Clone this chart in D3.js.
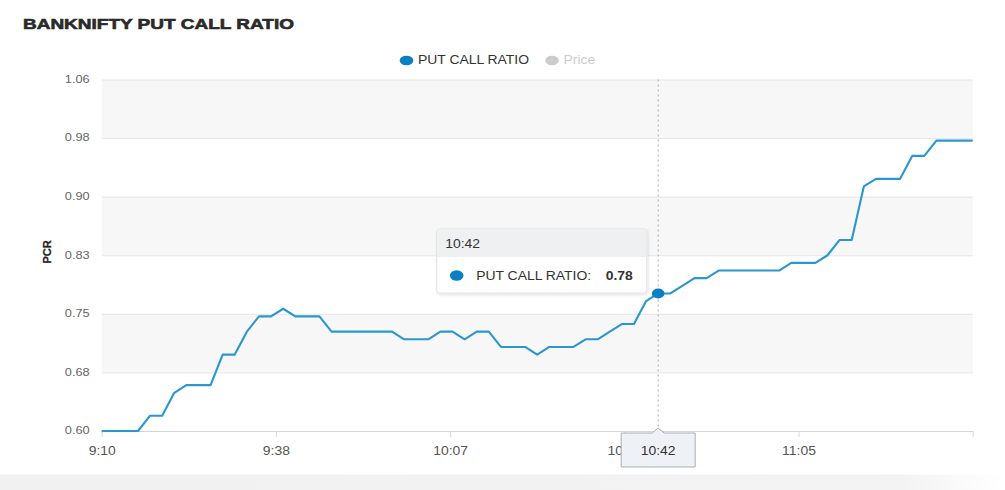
<!DOCTYPE html>
<html><head><meta charset="utf-8">
<script src="https://cdn.jsdelivr.net/npm/d3@7"></script>
<style>
body{margin:0;background:#fff;}
svg{display:block;font-family:"Liberation Sans",Arial,Helvetica,sans-serif;}
</style>
</head><body>
<svg id="c" width="1005" height="490"></svg>
<script>
// ---------- data ----------
const times = ["9:10","9:12","9:14","9:16","9:18","9:20","9:22","9:24","9:26","9:28",
  "9:30","9:32","9:34","9:36","9:38","9:40","9:42","9:44","9:46","9:48",
  "9:50","9:52","9:54","9:56","9:58","10:00","10:02","10:04","10:06","10:08",
  "10:10","10:12","10:14","10:16","10:18","10:20","10:22","10:24","10:26","10:28",
  "10:30","10:32","10:34","10:36","10:38","10:40","10:42","10:44","10:46","10:48",
  "10:50","10:52","10:54","10:56","10:58","11:00","11:02","11:04","11:06","11:08",
  "11:10","11:12","11:14","11:16","11:18","11:20","11:22","11:24","11:26","11:28",
  "11:30","11:32","11:34"];
const pcr = [0.60,0.60,0.60,0.60,0.62,0.62,0.65,0.66,0.66,0.66,
  0.70,0.70,0.73,0.75,0.75,0.76,0.75,0.75,0.75,0.73,
  0.73,0.73,0.73,0.73,0.73,0.72,0.72,0.72,0.73,0.73,
  0.72,0.73,0.73,0.71,0.71,0.71,0.70,0.71,0.71,0.71,
  0.72,0.72,0.73,0.74,0.74,0.77,0.78,0.78,0.79,0.80,
  0.80,0.81,0.81,0.81,0.81,0.81,0.81,0.82,0.82,0.82,
  0.83,0.85,0.85,0.92,0.93,0.93,0.93,0.96,0.96,0.98,
  0.98,0.98,0.98];
const yDomain = [0.60, 1.06];
const yTickLabels = ["0.60","0.68","0.75","0.83","0.90","0.98","1.06"];
const xTickLabels = ["9:10","9:38","10:07","10:36","11:05",""];
const chartTitle = "BANKNIFTY PUT CALL RATIO";
const seriesName = "PUT CALL RATIO";
const hiddenSeriesName = "Price";
const yTitle = "PCR";
const hoverTime = "10:42";

// ---------- setup ----------
const SX = 1.16;
const LINE = "#2b96cf", DOT = "#0a80c4";
const parse = d3.timeParse("%H:%M");
const data = times.map((t, i) => ({t: parse(t), label: t, v: pcr[i]}));
const svg = d3.select("#c");
const m = {l: 101.7, r: 972.7, t: 79.5, b: 431};
const x = d3.scaleTime().domain(d3.extent(data, d => d.t)).range([m.l, m.r]);
const y = d3.scaleLinear().domain(yDomain).range([m.b, m.t]);

function stretch(sel) {
  sel.each(function () {
    const t = d3.select(this);
    const ax = +t.attr("x") || 0;
    const prev = t.attr("transform") || "";
    t.attr("transform", `${prev} translate(${ax},0) scale(${SX},1) translate(${-ax},0)`);
  });
}

const defs = svg.append("defs");
const f = defs.append("filter").attr("id", "sh").attr("x", "-10%").attr("y", "-10%").attr("width", "130%").attr("height", "140%");
f.append("feDropShadow").attr("dx", 1).attr("dy", 1.5).attr("stdDeviation", 1.5)
  .attr("flood-color", "#000").attr("flood-opacity", 0.12);
const g1 = defs.append("linearGradient").attr("id", "bot").attr("x1", 0).attr("x2", 1);
g1.append("stop").attr("offset", "0").attr("stop-color", "#f1f1f1");
g1.append("stop").attr("offset", "0.9").attr("stop-color", "#f3f3f3");
g1.append("stop").attr("offset", "1").attr("stop-color", "#ffffff");

// bottom card shadow strip
svg.append("rect").attr("x", 0).attr("y", 474.5).attr("width", 1005).attr("height", 16).attr("fill", "url(#bot)");

// ---------- y grid + bands ----------
const yTicks = d3.range(yTickLabels.length).map(k => yDomain[0] + k * (yDomain[1] - yDomain[0]) / (yTickLabels.length - 1));
const bands = d3.range(1, yTicks.length - 1, 2);
svg.append("g").selectAll("rect").data(bands).join("rect")
  .attr("x", m.l).attr("width", m.r - m.l)
  .attr("y", k => y(yTicks[k + 1])).attr("height", k => y(yTicks[k]) - y(yTicks[k + 1]))
  .attr("fill", "#f7f7f7");

const yAxis = svg.append("g").attr("transform", `translate(${m.l},0)`)
  .call(d3.axisLeft(y).tickValues(yTicks).tickSize(-(m.r - m.l)).tickPadding(12)
    .tickFormat((d, i) => yTickLabels[i]));
yAxis.select(".domain").remove();
yAxis.selectAll(".tick line").attr("stroke", "#e6e6e6");
yAxis.selectAll(".tick text").attr("fill", "#666").attr("font-size", 11)
  .attr("font-family", "Liberation Sans, Arial, sans-serif").attr("dy", "0.25em").call(stretch);

// ---------- x axis ----------
const [d0, d1] = x.domain();
const xTicks = d3.range(xTickLabels.length).map(k => new Date(+d0 + k * (d1 - d0) / (xTickLabels.length - 1)));
const xAxis = svg.append("g").attr("transform", `translate(0,${m.b})`)
  .call(d3.axisBottom(x).tickValues(xTicks).tickSize(6).tickPadding(9)
    .tickFormat((d, i) => xTickLabels[i]));
xAxis.select(".domain").attr("stroke", "#d6d6d6").attr("d", `M${m.l},0.5H${m.r}`);
xAxis.selectAll(".tick line").attr("stroke", "#d6d6d6");
xAxis.selectAll(".tick text").attr("fill", "#555").attr("font-size", 12)
  .attr("font-family", "Liberation Sans, Arial, sans-serif").call(stretch);

// y title
svg.append("text").attr("transform", `translate(51,252) rotate(-90)`)
  .attr("text-anchor", "middle").attr("font-size", 11).attr("font-weight", "bold")
  .attr("fill", "#222").attr("stroke", "#222").attr("stroke-width", 0.25).text(yTitle);

// ---------- title ----------
svg.append("text").attr("x", 23).attr("y", 29.3).attr("font-size", 14.5).attr("font-weight", "bold")
  .attr("fill", "#2a2a2a").attr("stroke", "#2a2a2a").attr("stroke-width", 0.6)
  .attr("textLength", 271).attr("lengthAdjust", "spacingAndGlyphs").text(chartTitle);

// ---------- legend ----------
const lg = svg.append("g");
lg.append("ellipse").attr("cx", 406.5).attr("cy", 60.5).attr("rx", 6.8).attr("ry", 4.8).attr("fill", DOT);
lg.append("text").attr("x", 418).attr("y", 64.5).attr("font-size", 12).attr("fill", "#333").text(seriesName).call(stretch);
lg.append("ellipse").attr("cx", 552).attr("cy", 60.5).attr("rx", 6.8).attr("ry", 4.8).attr("fill", "#cccccc");
lg.append("text").attr("x", 563.5).attr("y", 64.5).attr("font-size", 12).attr("fill", "#cccccc").text(hiddenSeriesName).call(stretch);

// ---------- crosshair ----------
const hp = data.find(d => d.label === hoverTime);
const hx = x(hp.t), hy = y(hp.v);
svg.append("line").attr("x1", hx).attr("x2", hx).attr("y1", m.t).attr("y2", m.b)
  .attr("stroke", "#a8a8a8").attr("stroke-dasharray", "2,3").attr("stroke-width", 1);

// ---------- line ----------
svg.append("path").datum(data)
  .attr("d", d3.line().x(d => x(d.t)).y(d => y(d.v)))
  .attr("fill", "none").attr("stroke", LINE).attr("stroke-width", 2.1).attr("stroke-linejoin", "round");

// hover marker
svg.append("ellipse").attr("cx", hx).attr("cy", hy).attr("rx", 6.3).attr("ry", 5).attr("fill", DOT);

// ---------- x crosshair label ----------
const cl = svg.append("g");
const bw = 74, bt = m.b + 2, bh = 34;
cl.append("path")
  .attr("d", `M${hx - bw / 2},${bt} H${hx - 6} L${hx},${bt - 5} L${hx + 6},${bt} H${hx + bw / 2} V${bt + bh} H${hx - bw / 2} Z`)
  .attr("fill", "#eef1f5").attr("stroke", "#a9afb8").attr("stroke-width", 1);
cl.append("text").attr("x", hx).attr("y", 455).attr("text-anchor", "middle").attr("font-size", 12)
  .attr("fill", "#333").text(hoverTime).call(stretch);

// ---------- tooltip ----------
const tt = svg.append("g").attr("filter", "url(#sh)");
const tx = hx - 221.5, ty = hy - 64.5, tw = 210, th = 64;
tt.append("rect").attr("x", tx).attr("y", ty).attr("width", tw).attr("height", th).attr("rx", 3)
  .attr("fill", "#fff").attr("stroke", "#e3e3e3");
tt.append("path").attr("d", `M${tx + 0.5},${ty + 28} V${ty + 3} Q${tx + 0.5},${ty + 0.5} ${tx + 3},${ty + 0.5} H${tx + tw - 3} Q${tx + tw - 0.5},${ty + 0.5} ${tx + tw - 0.5},${ty + 3} V${ty + 28} Z`)
  .attr("fill", "#eef0f2");
const ttg = svg.append("g");
ttg.append("text").attr("x", tx + 8.5).attr("y", ty + 19.5).attr("font-size", 12).attr("fill", "#333").text(hoverTime).call(stretch);
ttg.append("ellipse").attr("cx", tx + 20).attr("cy", ty + 46.5).attr("rx", 6.8).attr("ry", 5.2).attr("fill", DOT);
ttg.append("text").attr("x", tx + 39.5).attr("y", ty + 51.5).attr("font-size", 12).attr("fill", "#333").text(seriesName + ":").call(stretch);
ttg.append("text").attr("x", tx + 169).attr("y", ty + 51.5).attr("font-size", 12).attr("font-weight", "bold").attr("fill", "#333")
  .text(d3.format(".2f")(hp.v)).call(stretch);
</script>
</body></html>
